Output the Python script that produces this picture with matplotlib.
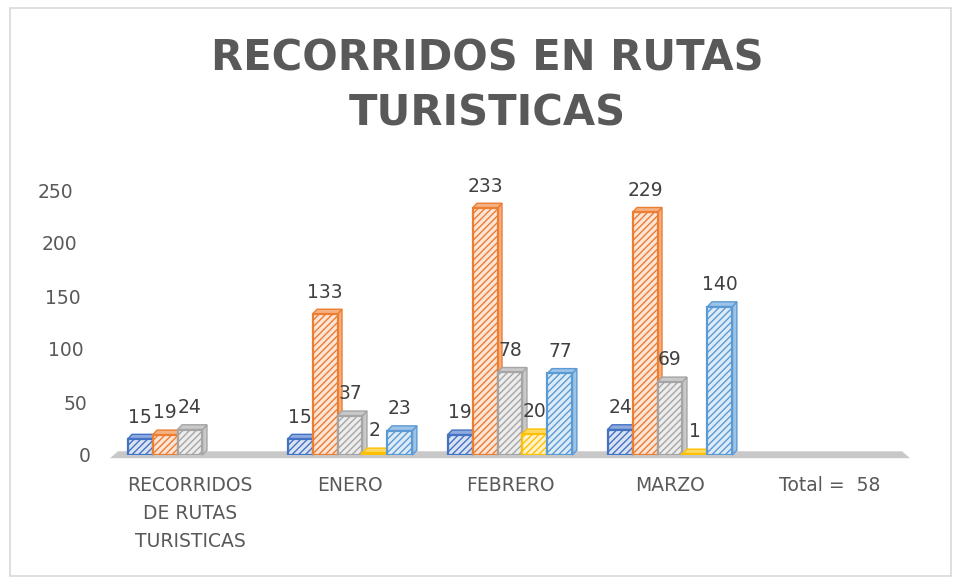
import numpy as np
import matplotlib
matplotlib.use("Agg")
import matplotlib.pyplot as plt
from matplotlib.patches import Polygon, Rectangle
from matplotlib.transforms import ScaledTranslation, blended_transform_factory

categories = ["RECORRIDOS\nDE RUTAS\nTURISTICAS", "ENERO", "FEBRERO", "MARZO", "Total =  58"]
serie_azul = [15, 15, 19, 24, np.nan]
serie_naranja = [19, 133, 233, 229, np.nan]
serie_gris = [24, 37, 78, 69, np.nan]
serie_amarilla = [np.nan, 2, 20, 1, np.nan]
serie_celeste = [np.nan, 23, 77, 140, np.nan]
yticks = [0, 50, 100, 150, 200, 250]

series = [serie_azul, serie_naranja, serie_gris, serie_amarilla, serie_celeste]
edge_colors = ["#4472C4", "#ED7D31", "#A5A5A5", "#FFC000", "#5B9BD5"]
face_colors = ["#DAE3F3", "#FCE4D6", "#EDEDED", "#FFF2CC", "#DDEBF7"]
top_colors = ["#8FAADC", "#F4B183", "#C9C9C9", "#FFD966", "#9DC3E6"]

plt.rcParams["hatch.linewidth"] = 1.0
fig = plt.figure(figsize=(9.54, 5.78), dpi=100)
W, H = 954, 578
# axes: x 110..910 px, y 190..455 px (from top)
ax = fig.add_axes([110 / W, (H - 455) / H, 800 / W, 265 / H])
ax.set_xlim(-0.5, len(categories) - 0.5)
ax.set_ylim(0, 250)

bw = 0.156
x = np.arange(len(categories))
dx = 0.028
dy = 4.5
for i, vals in enumerate(series):
    vals = np.array(vals, dtype=float)
    xpos = x + (i - 2) * bw
    ok = ~np.isnan(vals)
    for xp, v in zip(xpos[ok], vals[ok]):
        x0, x1 = xp - bw / 2, xp + bw / 2
        ax.add_patch(Polygon([(x1, 0), (x1, v), (x1 + dx, v + dy), (x1 + dx, dy)],
                             closed=True, facecolor=top_colors[i], edgecolor=edge_colors[i],
                             linewidth=1.0, zorder=2, clip_on=False))
        ax.add_patch(Polygon([(x0, v), (x0 + dx, v + dy), (x1 + dx, v + dy), (x1, v)],
                             closed=True, facecolor=top_colors[i], edgecolor=edge_colors[i],
                             linewidth=1.0, zorder=3, clip_on=False))
    bars = ax.bar(xpos[ok], vals[ok], width=bw, color=face_colors[i],
                  edgecolor=edge_colors[i], hatch="/////", linewidth=1.6, zorder=3)
    for b, v in zip(bars, vals[ok]):
        ax.annotate(f"{int(v)}", (b.get_x() + b.get_width() / 2, v), xytext=(0, 9),
                    textcoords="offset points", ha="center", va="bottom",
                    fontsize=13.5, color="#404040", zorder=5, annotation_clip=False)

# floor
tr = blended_transform_factory(ax.transAxes, ax.transData)
ax.add_patch(Polygon([(0.0, -3), (0.01, 3.5), (0.99, 3.5), (1.0, -3)], closed=True,
                     transform=tr, facecolor="#C8C8C8", edgecolor="none", zorder=1,
                     clip_on=False))

for s in ax.spines.values():
    s.set_visible(False)
ax.set_yticks(yticks)
ax.set_yticklabels([str(t) for t in yticks])
ax.tick_params(axis="y", length=0, pad=14, labelsize=13.5, labelcolor="#595959")
ax.set_xticks(x)
ax.set_xticklabels(categories, linespacing=1.6)
ax.tick_params(axis="x", length=0, pad=15, labelsize=13.5, labelcolor="#595959")
for lbl, t in zip(ax.get_yticklabels(), yticks):
    off = -(t / 250) * 17 / 100
    lbl.set_transform(lbl.get_transform() + ScaledTranslation(off, 0, fig.dpi_scale_trans))
ax.patch.set_visible(False)

fig.text(487 / W, 1 - 86 / H, "RECORRIDOS EN RUTAS\nTURISTICAS", ha="center", va="center",
         fontsize=30, fontweight="bold", color="#595959", linespacing=1.4)

fig.add_artist(Rectangle((10 / W, 2 / H), 941 / W, (H - 10) / H, transform=fig.transFigure,
                         fill=False, edgecolor="#D9D9D9", linewidth=1.2))

fig.savefig("out.png", dpi=100, facecolor="white")
